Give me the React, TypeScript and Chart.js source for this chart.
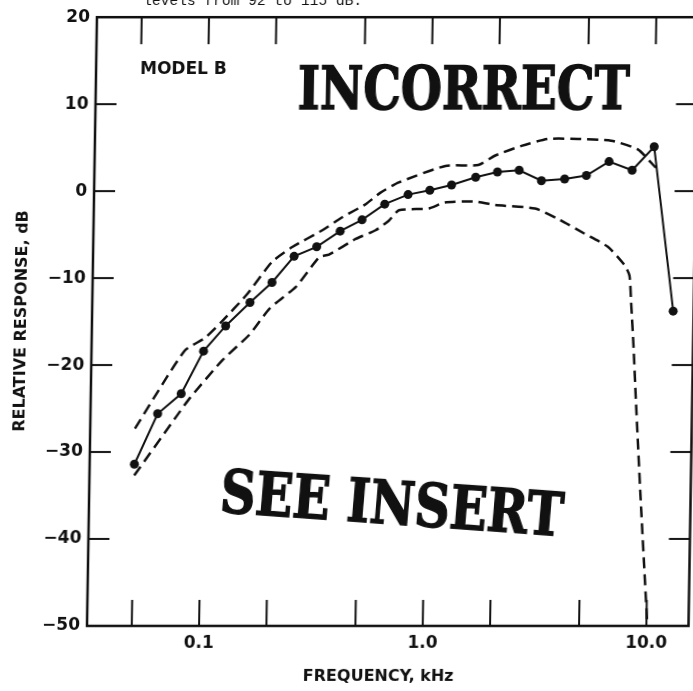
import React, { useEffect, useRef } from 'react';
import { Chart, registerables } from 'chart.js';

Chart.register(...registerables);

// ---- data (frequency in kHz, response in dB) ----
const modelFreq = [0.05, 0.063, 0.08, 0.1, 0.125, 0.16, 0.2, 0.25, 0.315, 0.4, 0.5, 0.63, 0.8, 1.0, 1.25, 1.6, 2.0, 2.5, 3.15, 4.0, 5.0, 6.3, 8.0, 10.0, 12.5];
const modelDb = [-31.4, -25.6, -23.3, -18.4, -15.5, -12.8, -10.5, -7.5, -6.4, -4.6, -3.3, -1.5, -0.4, 0.1, 0.7, 1.6, 2.2, 2.4, 1.2, 1.4, 1.8, 3.4, 2.4, 5.1, -13.8];

const upperFreq = [0.05, 0.082, 0.101, 0.12, 0.154, 0.2, 0.246, 0.333, 0.408, 0.518, 0.6, 0.726, 1.17, 1.64, 1.95, 2.55, 3.35, 4.56, 6.41, 8.45, 10.2];
const upperDb = [-27.3, -18.4, -16.9, -15.0, -11.95, -8.1, -6.4, -4.5, -3.0, -1.5, -0.2, 1.0, 2.9, 3.0, 4.1, 5.2, 6.0, 6.0, 5.8, 4.8, 2.7];

const lowerFreq = [0.05, 0.0765, 0.0875, 0.122, 0.16, 0.196, 0.256, 0.324, 0.358, 0.47, 0.576, 0.659, 0.73, 0.99, 1.17, 1.6, 1.96, 2.96, 3.76, 4.96, 6.31, 7.51, 7.92, 8.09, 8.37, 8.65, 9.24, 10.1];
const lowerDb = [-32.7, -25.9, -23.8, -19.4, -16.5, -13.5, -11.0, -7.6, -7.3, -5.5, -4.5, -3.4, -2.2, -2.0, -1.3, -1.2, -1.6, -2.0, -3.2, -4.9, -6.4, -8.5, -9.7, -12.7, -18.1, -24.2, -35.6, -50];

const xTickValues = [0.05, 0.1, 0.2, 0.5, 1, 2, 5, 10];
const xTickLabels: [number, string][] = [[0.1, '0.1'], [1, '1.0'], [10, '10.0']];
const yTickValues = [20, 10, 0, -10, -20, -30, -40, -50];

const X_MIN = 0.03154;
const X_MAX = 15.43;
const Y_MIN = -50;
const Y_MAX = 20;

const xTitle = 'FREQUENCY, kHz';
const yTitle = 'RELATIVE RESPONSE, dB';
const modelNote = 'MODEL B';
const stampTop = 'INCORRECT';
const stampBottom = 'SEE INSERT';
const captionTail = 'levels from 92 to 115 dB.';

const INK = '#111';
const SANS = '"DejaVu Sans", sans-serif';
const SERIF = '"DejaVu Serif", serif';

const toPoints = (xs: number[], ys: number[]) => xs.map((x, i) => ({ x, y: ys[i] }));

const decorPlugin = {
  id: 'decor',
  afterDraw(chart: any) {
    const ctx: CanvasRenderingContext2D = chart.ctx;
    const { left, right, top, bottom } = chart.chartArea;
    const xs = chart.scales.x;
    const ys = chart.scales.y;
    const line = (x1: number, y1: number, x2: number, y2: number) => {
      ctx.beginPath();
      ctx.moveTo(x1, y1);
      ctx.lineTo(x2, y2);
      ctx.stroke();
    };
    ctx.save();
    ctx.strokeStyle = INK;
    ctx.lineCap = 'butt';
    ctx.lineWidth = 2.5;
    ctx.strokeRect(left, top, right - left, bottom - top);
    ctx.lineWidth = 2;
    xTickValues.forEach((v) => {
      const px = xs.getPixelForValue(v);
      line(px, bottom, px, bottom - 26);
      line(px, top, px, top + 27);
    });
    yTickValues.slice(1, -1).forEach((v) => {
      const py = ys.getPixelForValue(v);
      line(left, py, left + 21, py);
      line(right, py, right - 21, py);
    });

    ctx.fillStyle = INK;
    // axis titles
    ctx.font = `bold 16px ${SANS}`;
    ctx.textAlign = 'center';
    ctx.textBaseline = 'middle';
    ctx.fillText(xTitle, 379, 677);
    ctx.save();
    ctx.translate(17, 321);
    ctx.rotate(-Math.PI / 2);
    ctx.fillText(yTitle, 0, 0);
    ctx.restore();

    // model note
    ctx.font = `bold 17px ${SANS}`;
    ctx.textAlign = 'left';
    ctx.fillText(modelNote, 131, 70);

    // stamps
    ctx.font = `bold 60px ${SERIF}`;
    ctx.textAlign = 'center';
    ctx.textBaseline = 'alphabetic';
    ctx.lineWidth = 1.5;
    ctx.fillText(stampTop, 455, 109, 332);
    ctx.strokeText(stampTop, 455, 109, 332);
    ctx.save();
    ctx.translate(390, 503);
    ctx.rotate((4 * Math.PI) / 180);
    ctx.fillText(stampBottom, 0, 21, 344);
    ctx.strokeText(stampBottom, 0, 21, 344);
    ctx.restore();

    // caption fragment at the very top
    ctx.font = `14.6px "Liberation Mono", monospace`;
    ctx.textAlign = 'left';
    ctx.fillText(captionTail, 133, 5);
    ctx.restore();
  },
};

export default function App() {
  const canvasRef = useRef<HTMLCanvasElement | null>(null);

  useEffect(() => {
    const canvas = canvasRef.current;
    if (!canvas) return;
    const chart = new Chart(canvas, {
      type: 'line',
      data: {
        datasets: [
          {
            label: 'Upper limit',
            data: toPoints(upperFreq, upperDb),
            borderColor: INK,
            borderWidth: 2.5,
            borderDash: [11, 6],
            pointRadius: 0,
            tension: 0.2,
            fill: false,
          },
          {
            label: 'Lower limit',
            data: toPoints(lowerFreq, lowerDb),
            borderColor: INK,
            borderWidth: 2.5,
            borderDash: [11, 6],
            pointRadius: 0,
            tension: 0.2,
            fill: false,
          },
          {
            label: 'Model B',
            data: toPoints(modelFreq, modelDb),
            borderColor: INK,
            borderWidth: 2,
            pointRadius: 4.5,
            pointBackgroundColor: INK,
            pointBorderWidth: 0,
            tension: 0,
            fill: false,
          },
        ],
      },
      options: {
        responsive: false,
        animation: false,
        devicePixelRatio: 1,
        layout: { padding: { top: 14, right: 2, left: 0, bottom: 0 } },
        plugins: {
          legend: { display: false },
          tooltip: { enabled: false },
          title: { display: false },
        },
        scales: {
          x: {
            type: 'logarithmic',
            min: X_MIN,
            max: X_MAX,
            grid: { display: false, drawTicks: false },
            border: { display: false },
            afterBuildTicks: (scale: any) => {
              scale.ticks = xTickValues.map((v) => ({ value: v }));
            },
            afterFit: (scale: any) => {
              scale.height = 65;
            },
            ticks: {
              autoSkip: false,
              maxRotation: 0,
              padding: 7,
              color: INK,
              font: { family: SANS, size: 17, weight: 'bold' },
              callback: (value: any) => {
                const found = xTickLabels.find(([v]) => Math.abs(v - Number(value)) < 1e-9);
                return found ? found[1] : '';
              },
            },
          },
          y: {
            type: 'linear',
            min: Y_MIN,
            max: Y_MAX,
            grid: { display: false, drawTicks: false },
            border: { display: false },
            afterFit: (scale: any) => {
              scale.width = 87;
            },
            ticks: {
              stepSize: 10,
              padding: 7,
              color: INK,
              font: { family: SANS, size: 17, weight: 'bold' },
              callback: (value: any) => {
                const n = Number(value);
                return n < 0 ? '\u2212' + Math.abs(n) : String(n);
              },
            },
          },
        },
      },
      plugins: [decorPlugin],
    } as any);
    return () => chart.destroy();
  }, []);

  return (
    <div style={{ position: 'fixed', left: 0, top: 0, width: 693, height: 691, background: '#fff', overflow: 'hidden' }}>
      <canvas
        ref={canvasRef}
        width={693}
        height={691}
        style={{ display: 'block', width: 693, height: 691, transform: 'skewX(-0.936deg)', transformOrigin: '0px 626px' }}
      />
    </div>
  );
}
